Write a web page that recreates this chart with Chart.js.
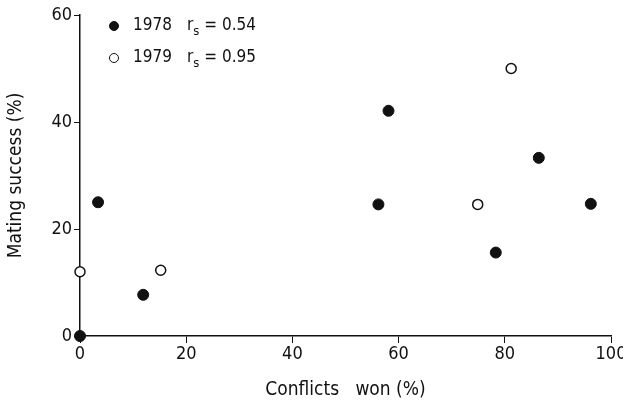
<!DOCTYPE html>
<html>
<head>
    <meta charset="UTF-8">
    <title>Mating success</title>
    <script src="https://cdn.jsdelivr.net/npm/chart.js@4.4.1/dist/chart.umd.min.js"></script>
    <style>
        body { margin: 0; background: #fff; }
        #wrap { position: relative; width: 623px; height: 405px; }
        .legend { position: absolute; left: 109px; font-family: "DejaVu Sans Condensed", sans-serif; font-size: 17px; color: #111; line-height: 20px; }
        .legend span { display: inline-block; }
        .dot { width: 10px; height: 10px; border-radius: 50%; box-sizing: border-box; border: 1.5px solid #111; vertical-align: -1px; margin-right: 14px; }
        .yr { width: 54px; }
        sub { font-size: 13px; vertical-align: -5px; line-height: 0; }
    </style>
</head>
<body>
<div id="wrap">
    <canvas id="myChart"></canvas>
    <div class="legend" style="top: 14px;"><span class="dot" style="background:#111"></span><span class="yr">1978</span><span>r<sub>s</sub> = 0.54</span></div>
    <div class="legend" style="top: 46px;"><span class="dot" style="background:#fff"></span><span class="yr">1979</span><span>r<sub>s</sub> = 0.95</span></div>
</div>
<script>

    var won1978 = [0, 3.4, 11.9, 56.2, 58.1, 78.3, 86.4, 96.2];
    var success1978 = [0, 25, 7.7, 24.6, 42.1, 15.6, 33.3, 24.7];
    var won1979 = [0, 15.2, 74.9, 81.2];
    var success1979 = [12, 12.3, 24.6, 50];
    var xTicks = [0, 20, 40, 60, 80, 100];
    var yTicks = [0, 20, 40, 60];

    function pts(xs, ys) {
        var out = [];
        for (var i = 0; i < xs.length; i++) {
            out.push({ x: xs[i], y: ys[i] });
        }
        return out;
    }

    var tickFont = { family: '"DejaVu Sans Condensed", sans-serif', size: 18 };
    var titleFont = { family: '"DejaVu Sans Condensed", sans-serif', size: 19 };

    const data = {
        datasets: [{
            label: '1978',
            data: pts(won1978, success1978),
            backgroundColor: '#111',
            borderColor: '#111',
            pointRadius: 5.5,
            pointBorderWidth: 1,
            clip: false
        }, {
            label: '1979',
            data: pts(won1979, success1979),
            backgroundColor: '#fff',
            borderColor: '#111',
            pointRadius: 5,
            pointBorderWidth: 1.5,
            clip: false
        }]
    };

    const config = {
        type: 'scatter',
        data,
        options: {
            responsive: true,
            maintainAspectRatio: false,
            animation: false,
            layout: { padding: { top: 15, right: 12, left: 0, bottom: 0 } },
            plugins: { legend: { display: false }, tooltip: { enabled: false } },
            scales: {
                x: {
                    min: 0, max: 100,
                    afterBuildTicks: function (s) { s.ticks = xTicks.map(v => ({ value: v })); },
                    afterFit: function (s) { s.height = 69; s.paddingRight = 0; s.paddingLeft = 0; },
                    grid: { drawOnChartArea: false, drawTicks: true, tickLength: 7, color: '#111' },
                    border: { color: '#111', width: 1.5 },
                    ticks: { color: '#111', font: tickFont, padding: 1, maxRotation: 0 },
                    title: { display: true, text: 'Conflicts   won (%)', color: '#111', font: titleFont, padding: { top: 12 } }
                },
                y: {
                    min: 0, max: 60,
                    afterBuildTicks: function (s) { s.ticks = yTicks.map(v => ({ value: v })); },
                    afterFit: function (s) { s.width = 80; },
                    grid: { drawOnChartArea: false, drawTicks: true, tickLength: 6, color: '#111' },
                    border: { color: '#111', width: 1.5 },
                    ticks: { color: '#111', font: tickFont, padding: 2 },
                    title: { display: true, text: 'Mating success (%)', color: '#111', font: titleFont, padding: { top: 5, bottom: 6 } }
                }
            }
        }
    };

    var myChart = new Chart(document.getElementById('myChart'), config);

</script>
</body>
</html>
